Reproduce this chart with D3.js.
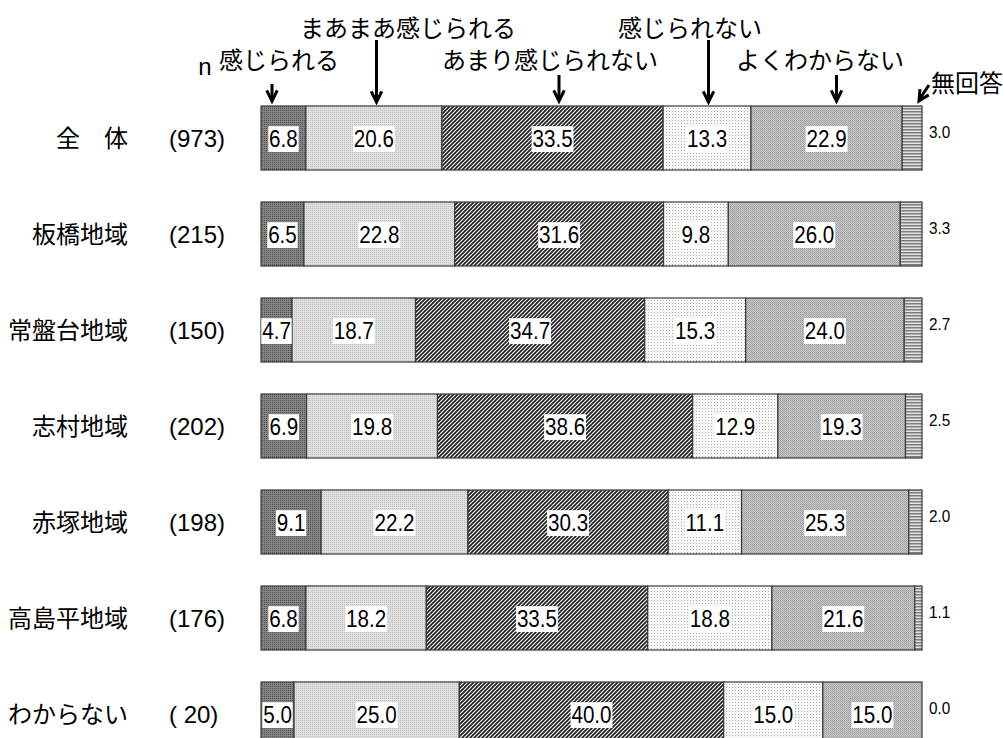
<!DOCTYPE html>
<html><head><meta charset="utf-8">
<script src="https://cdn.jsdelivr.net/npm/d3@7"></script>
<style>
html,body{margin:0;padding:0;background:#fff;}
svg{display:block;}
</style></head>
<body>
<svg id="chart" width="1003" height="738"></svg>
<script>
// ---- data ----
const categories = ["全\u3000体","板橋地域","常盤台地域","志村地域","赤塚地域","高島平地域","わからない"];
const nLabels = ["(973)","(215)","(150)","(202)","(198)","(176)","( 20)"];
const seriesNames = ["感じられる","まあまあ感じられる","あまり感じられない","感じられない","よくわからない","無回答"];
const s1 = [6.8, 6.5, 4.7, 6.9, 9.1, 6.8, 5.0];
const s2 = [20.6, 22.8, 18.7, 19.8, 22.2, 18.2, 25.0];
const s3 = [33.5, 31.6, 34.7, 38.6, 30.3, 33.5, 40.0];
const s4 = [13.3, 9.8, 15.3, 12.9, 11.1, 18.8, 15.0];
const s5 = [22.9, 26.0, 24.0, 19.3, 25.3, 21.6, 15.0];
const s6 = [3.0, 3.3, 2.7, 2.5, 2.0, 1.1, 0.0];
const seriesValues = [s1, s2, s3, s4, s5, s6];

// ---- layout (not data) ----
const svg = d3.select("#chart");
const x = d3.scaleLinear().domain([0, 100]).range([261, 922]);
const y = d3.scaleBand().domain(categories).range([90, 762]).paddingInner(1/3).paddingOuter(1/6);
const latin = "'Liberation Sans', Arial, 'Noto Sans CJK JP', sans-serif";
const jp = "'Noto Sans CJK JP', 'Liberation Sans', sans-serif";

// patterns
const defs = svg.append("defs");
function pat(id, w, h, build) {
  const p = defs.append("pattern").attr("id", id).attr("patternUnits", "userSpaceOnUse")
    .attr("width", w).attr("height", h);
  build(p);
}
pat("p1", 2, 2, p => {
  p.append("rect").attr("width", 2).attr("height", 2).attr("fill", "#858585");
  p.append("rect").attr("width", 1).attr("height", 1).attr("fill", "#505050");
});
pat("p2", 2, 2, p => {
  p.append("rect").attr("width", 2).attr("height", 2).attr("fill", "#dedede");
  p.append("rect").attr("width", 1).attr("height", 1).attr("fill", "#c4c4c4");
});
pat("p3", 4, 4, p => {
  p.append("rect").attr("width", 4).attr("height", 4).attr("fill", "#f4f4f4");
  p.append("path").attr("d", "M-1,1 L1,-1 M0,4 L4,0 M3,5 L5,3")
    .attr("stroke", "#1e1e1e").attr("stroke-width", 1.6);
});
pat("p4", 3, 3, p => {
  p.append("rect").attr("width", 3).attr("height", 3).attr("fill", "#f6f6f6");
  p.append("rect").attr("width", 1).attr("height", 1).attr("fill", "#b4b4b4");
});
pat("p5", 2, 2, p => {
  p.append("rect").attr("width", 2).attr("height", 2).attr("fill", "#c8c8c8");
  p.append("rect").attr("width", 1).attr("height", 1).attr("fill", "#9c9c9c");
  p.append("rect").attr("x", 1).attr("y", 1).attr("width", 1).attr("height", 1).attr("fill", "#a8a8a8");
});
pat("p6", 3, 3, p => {
  p.append("rect").attr("width", 3).attr("height", 3).attr("fill", "#e0e0e0");
  p.append("rect").attr("width", 3).attr("height", 1.5).attr("fill", "#7e7e7e");
});
const fills = ["url(#p1)","url(#p2)","url(#p3)","url(#p4)","url(#p5)","url(#p6)"];

// build stacked rows (normalised to 100%)
const rows = categories.map((c, i) => {
  const vals = seriesValues.map(s => s[i]);
  const total = d3.sum(vals);
  let acc = 0;
  const segs = vals.map((v, k) => {
    const s = { cat: c, k, v, x0: acc / total * 100, x1: (acc + v) / total * 100 };
    acc += v;
    return s;
  });
  return { cat: c, n: nLabels[i], segs };
});

const g = svg.append("g");
const rowG = g.selectAll("g.row").data(rows).join("g").attr("class", "row");

rowG.selectAll("rect.seg").data(d => d.segs).join("rect")
  .attr("class", "seg")
  .attr("x", d => x(d.x0))
  .attr("y", d => y(d.cat))
  .attr("width", d => Math.max(0, x(d.x1) - x(d.x0)))
  .attr("height", y.bandwidth())
  .attr("fill", d => fills[d.k])
  .attr("stroke", "#3a3a3a")
  .attr("stroke-width", 1.2);

// inside labels (first five series) with white boxes, condensed like the original
rowG.each(function(r) {
  const gg = d3.select(this);
  r.segs.slice(0, 5).forEach(s => {
    const cx = (x(s.x0) + x(s.x1)) / 2;
    const cy = y(s.cat) + y.bandwidth() / 2;
    const lg = gg.append("g").attr("transform", `translate(${cx},${cy}) scale(0.86,1)`);
    const t = lg.append("text")
      .attr("x", 0).attr("y", 0).attr("dy", "0.36em")
      .attr("text-anchor", "middle")
      .attr("font-family", latin).attr("font-size", 24)
      .attr("fill", "#000")
      .text(s.v.toFixed(1));
    const bb = t.node().getBBox();
    lg.insert("rect", () => t.node())
      .attr("x", bb.x - 1).attr("y", bb.y + 1)
      .attr("width", bb.width + 2).attr("height", bb.height - 1)
      .attr("fill", "#fff");
  });
  const last = r.segs[5];
  gg.append("text")
    .attr("transform", `translate(${x(100) + 7},${y(r.cat) + y.bandwidth() / 2 - 6}) scale(0.9,1)`)
    .attr("dy", "0.36em")
    .attr("font-family", latin).attr("font-size", 17)
    .text(last.v.toFixed(1));
});

// row category labels and n
rowG.append("text")
  .attr("x", 128).attr("y", d => y(d.cat) + y.bandwidth() / 2).attr("dy", "0.36em")
  .attr("text-anchor", "end").attr("font-family", jp).attr("font-size", 24)
  .text(d => d.cat);
rowG.append("text")
  .attr("x", 169).attr("y", d => y(d.cat) + y.bandwidth() / 2).attr("dy", "0.36em")
  .attr("font-family", latin).attr("font-size", 24).attr("xml:space", "preserve")
  .style("white-space", "pre")
  .text(d => d.n);

// header annotations (legend with arrows)
const headerPos = [
  { cx: 279, cy: 60, ax: 272, ay0: 84, ay1: 100 },
  { cx: 408, cy: 28, ax: 376.5, ay0: 40, ay1: 101 },
  { cx: 550, cy: 60, ax: 559, ay0: 75, ay1: 100 },
  { cx: 690, cy: 28, ax: 708.5, ay0: 40, ay1: 101 },
  { cx: 820, cy: 60, ax: 836.5, ay0: 75, ay1: 100 },
  { cx: 967, cy: 83, ax: 919, ay0: 85, ay1: 100, ax0: 929 }
];
const hg = svg.append("g");
seriesNames.forEach((name, k) => {
  const p = headerPos[k];
  hg.append("text").attr("x", p.cx).attr("y", p.cy).attr("dy", "0.36em")
    .attr("text-anchor", "middle").attr("font-family", jp).attr("font-size", 24)
    .text(name);
  const x0 = p.ax0 !== undefined ? p.ax0 : p.ax;
  hg.append("line").attr("x1", x0).attr("y1", p.ay0).attr("x2", p.ax).attr("y2", p.ay1)
    .attr("stroke", "#000").attr("stroke-width", 3);
  const ang = Math.atan2(p.ay1 - p.ay0, p.ax - x0);
  const L = 11, spread = 0.5;
  const pts = [
    [p.ax - L * Math.cos(ang - spread), p.ay1 - L * Math.sin(ang - spread)],
    [p.ax, p.ay1 + 1],
    [p.ax - L * Math.cos(ang + spread), p.ay1 - L * Math.sin(ang + spread)]
  ];
  hg.append("path").attr("d", d3.line()(pts)).attr("fill", "none")
    .attr("stroke", "#000").attr("stroke-width", 3).attr("stroke-linejoin", "miter");
});
hg.append("text").attr("x", 205).attr("y", 66).attr("dy", "0.36em")
  .attr("text-anchor", "middle").attr("font-family", latin).attr("font-size", 24).text("n");
</script>
</body></html>
